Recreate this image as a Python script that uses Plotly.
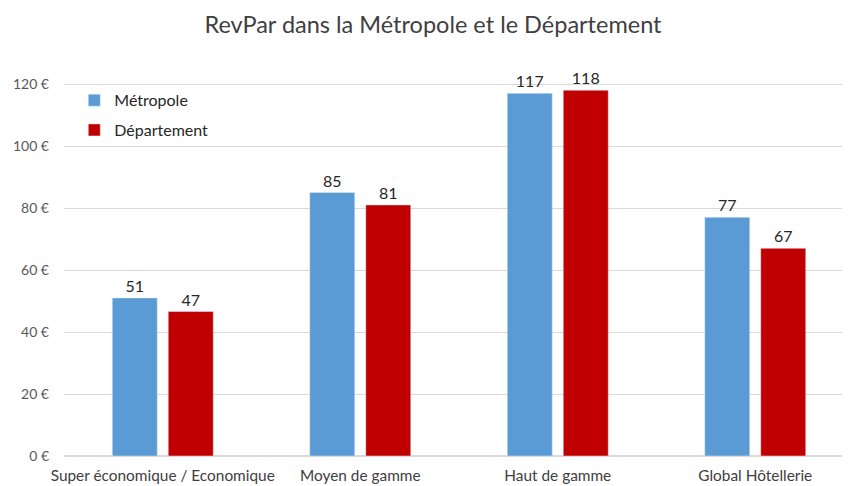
import plotly.graph_objects as go

categories = ["Super économique / Economique", "Moyen de gamme", "Haut de gamme", "Global Hôtellerie"]
metropole = [51, 85, 117, 77]
departement = [46.6, 81, 118, 67]
y_ticks = [0, 20, 40, 60, 80, 100, 120]
y_tick_labels = [f"{v} €" for v in y_ticks]

fig = go.Figure()
fig.add_trace(go.Bar(
    x=categories, y=metropole, name="Métropole", legendgroup="m",
    marker_color="#5B9BD5",
    texttemplate="%{y:.0f}", textposition="outside",
    textfont=dict(size=16, color="#262626"), cliponaxis=False
))
fig.add_trace(go.Bar(
    x=categories, y=departement, name="Département", legendgroup="d",
    marker_color="#C00000",
    texttemplate="%{y:.0f}", textposition="outside",
    textfont=dict(size=16, color="#262626"), cliponaxis=False
))

# page body adds an 8px offset, margins compensate for it
fig.update_layout(
    width=850, height=486,
    title=dict(text="RevPar dans la Métropole et le Département", x=0.5, xanchor="center",
               y=0.965, yanchor="middle", font=dict(size=23.5, color="#404040")),
    font=dict(family="Lato, Open Sans, sans-serif", color="#595959"),
    plot_bgcolor="white", paper_bgcolor="white",
    margin=dict(l=56, r=4, t=45, b=38),
    barmode="group", bargap=0.433, bargroupgap=0.196,
    legend=dict(x=0.013, y=0.925, xanchor="left", yanchor="top",
                font=dict(size=16, color="#262626"), tracegroupgap=6,
                itemwidth=30, bgcolor="rgba(0,0,0,0)"),
    showlegend=True,
)
fig.update_yaxes(range=[0, 130], tickvals=y_ticks, ticktext=y_tick_labels, showgrid=True,
                 gridcolor="#D9D9D9", gridwidth=1, zeroline=True, zerolinecolor="#D9D9D9",
                 tickfont=dict(size=14, color="#595959"), ticks="", showline=False,
                 ticklabelstandoff=14)
fig.update_xaxes(tickfont=dict(size=15.4, color="#404040"), showline=False,
                 ticks="outside", ticklen=6, tickcolor="white")

fig.write_html("out.html")
